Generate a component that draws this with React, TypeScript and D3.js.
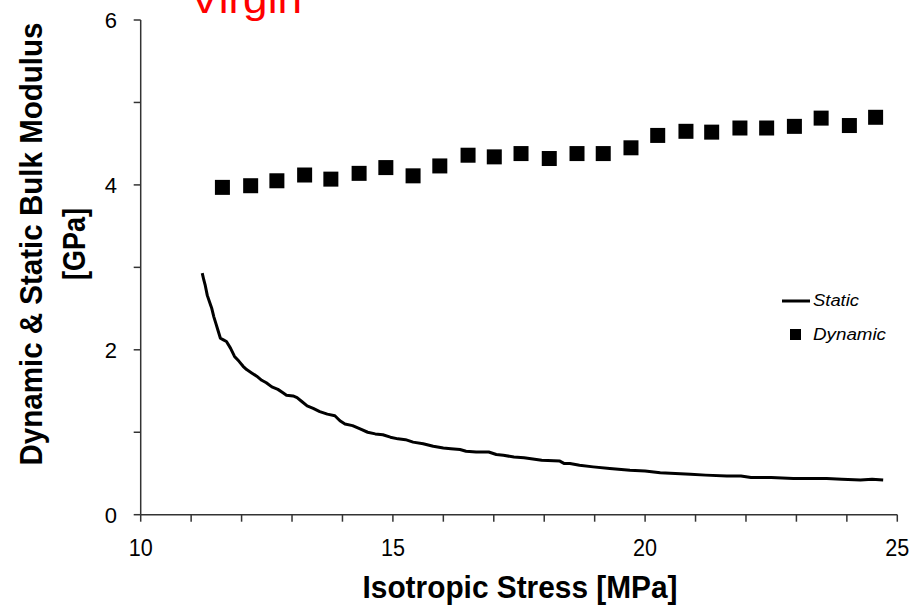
import React from "react";
import * as d3 from "d3";

const W = 922;
const H = 607;

const xTicksMajor = [10, 15, 20, 25];
const xTicksMinor = d3.range(10, 26, 1);
const yTicksMajor = [0, 2, 4, 6];
const yTicksMinor = d3.range(0, 7, 1);

const dynamicX = [11.62, 12.18, 12.7, 13.25, 13.77, 14.33, 14.86, 15.4, 15.93, 16.49, 17.01, 17.54, 18.1, 18.65, 19.17, 19.72, 20.25, 20.81, 21.32, 21.88, 22.41, 22.96, 23.49, 24.05, 24.57];
const dynamicY = [3.97, 3.99, 4.05, 4.12, 4.07, 4.14, 4.21, 4.11, 4.23, 4.36, 4.34, 4.38, 4.32, 4.38, 4.38, 4.45, 4.6, 4.65, 4.64, 4.69, 4.69, 4.71, 4.81, 4.72, 4.82];

const staticX = [11.22, 11.25, 11.28, 11.32, 11.37, 11.41, 11.45, 11.49, 11.53, 11.58, 11.64, 11.7, 11.78, 11.86, 11.95, 12.03, 12.1, 12.2, 12.3, 12.4, 12.49, 12.6, 12.72, 12.82, 12.89, 13.02, 13.1, 13.2, 13.3, 13.42, 13.55, 13.7, 13.85, 13.95, 14.05, 14.2, 14.35, 14.5, 14.65, 14.8, 14.95, 15.1, 15.25, 15.4, 15.6, 15.8, 16.0, 16.15, 16.33, 16.45, 16.65, 16.9, 17.05, 17.19, 17.4, 17.6, 17.95, 18.31, 18.4, 18.51, 18.7, 18.97, 19.3, 19.7, 20.0, 20.3, 20.6, 20.9, 21.2, 21.62, 21.9, 22.1, 22.5, 22.94, 23.3, 23.6, 23.9, 24.27, 24.5, 24.72];
const staticY = [2.93, 2.85, 2.78, 2.66, 2.57, 2.5, 2.4, 2.32, 2.24, 2.14, 2.12, 2.1, 2.02, 1.92, 1.86, 1.8, 1.76, 1.72, 1.68, 1.63, 1.6, 1.55, 1.52, 1.48, 1.45, 1.44, 1.42, 1.37, 1.32, 1.29, 1.25, 1.22, 1.2, 1.14, 1.1, 1.08, 1.04, 1.0, 0.98, 0.97, 0.94, 0.92, 0.91, 0.88, 0.86, 0.83, 0.81, 0.8, 0.79, 0.77, 0.76, 0.76, 0.73, 0.72, 0.7, 0.69, 0.66, 0.65, 0.62, 0.62, 0.6, 0.58, 0.56, 0.54, 0.53, 0.51, 0.5, 0.49, 0.48, 0.47, 0.47, 0.45, 0.45, 0.44, 0.44, 0.44, 0.43, 0.42, 0.43, 0.42];

const titleText = "Virgin";
const xLabel = "Isotropic Stress [MPa]";
const yLabel1 = "Dynamic & Static Bulk Modulus";
const yLabel2 = "[GPa]";
const legendStatic = "Static";
const legendDynamic = "Dynamic";

export default function App() {
  const x = d3.scaleLinear().domain([10, 25]).range([140.7, 897.3]);
  const y = d3.scaleLinear().domain([0, 6]).range([514.7, 20]);
  const line = d3
    .line<number>()
    .x((_, i) => x(staticX[i]))
    .y((d) => y(d));
  const sq = 15;
  const font = "'Liberation Sans', Arial, sans-serif";
  const axisColor = "#333";

  return (
    <svg
      width={W}
      height={H}
      style={{ position: "absolute", left: 0, top: 0, background: "#fff" }}
      fontFamily={font}
    >
      <rect x={0} y={0} width={W} height={H} fill="#fff" />
      {/* title */}
      <text x={246} y={13} fill="#ff0000" fontSize={40} textAnchor="middle" textLength={112} lengthAdjust="spacingAndGlyphs">
        {titleText}
      </text>

      {/* axes */}
      <line x1={x(10)} x2={x(25)} y1={y(0)} y2={y(0)} stroke={axisColor} strokeWidth={1.5} />
      <line x1={x(10)} x2={x(10)} y1={y(0)} y2={y(6)} stroke={axisColor} strokeWidth={1.5} />
      {xTicksMinor.map((t) => (
        <line key={"xt" + t} x1={x(t)} x2={x(t)} y1={y(0)} y2={y(0) + 7} stroke={axisColor} strokeWidth={1.5} />
      ))}
      {yTicksMinor.map((t) => (
        <line key={"yt" + t} x1={x(10) - 7} x2={x(10)} y1={y(t)} y2={y(t)} stroke={axisColor} strokeWidth={1.5} />
      ))}
      {xTicksMajor.map((t) => (
        <text key={"xl" + t} x={x(t)} y={556} fontSize={23} textAnchor="middle" fill="#000" textLength={String(t).length * 12} lengthAdjust="spacingAndGlyphs">
          {t}
        </text>
      ))}
      {yTicksMajor.map((t) => (
        <text key={"yl" + t} x={117} y={y(t) + 8} fontSize={22} textAnchor="end" fill="#000">
          {t}
        </text>
      ))}

      {/* axis titles */}
      <text x={520} y={598} fontSize={32} fontWeight="bold" textAnchor="middle" textLength={315} lengthAdjust="spacingAndGlyphs" fill="#000">
        {xLabel}
      </text>
      <g transform="translate(42,244) rotate(-90)">
        <text x={0} y={0} fontSize={32} fontWeight="bold" textAnchor="middle" textLength={443} lengthAdjust="spacingAndGlyphs" fill="#000">
          {yLabel1}
        </text>
      </g>
      <g transform="translate(85,244) rotate(-90)">
        <text x={0} y={0} fontSize={32} fontWeight="bold" textAnchor="middle" textLength={72} lengthAdjust="spacingAndGlyphs" fill="#000">
          {yLabel2}
        </text>
      </g>

      {/* static line */}
      <path d={line(staticY) || ""} fill="none" stroke="#000" strokeWidth={3} strokeLinejoin="round" />

      {/* dynamic squares */}
      {dynamicX.map((d, i) => (
        <rect key={"d" + i} x={x(d) - sq / 2} y={y(dynamicY[i]) - sq / 2} width={sq} height={sq} fill="#000" />
      ))}

      {/* legend */}
      <line x1={782} x2={810} y1={301} y2={301} stroke="#000" strokeWidth={3} />
      <text x={813} y={306} fontSize={16} fontStyle="italic" fill="#000" textLength={46} lengthAdjust="spacingAndGlyphs">
        {legendStatic}
      </text>
      <rect x={790} y={329} width={11} height={11} fill="#000" />
      <text x={813} y={340} fontSize={16} fontStyle="italic" fill="#000" textLength={73} lengthAdjust="spacingAndGlyphs">
        {legendDynamic}
      </text>
    </svg>
  );
}
